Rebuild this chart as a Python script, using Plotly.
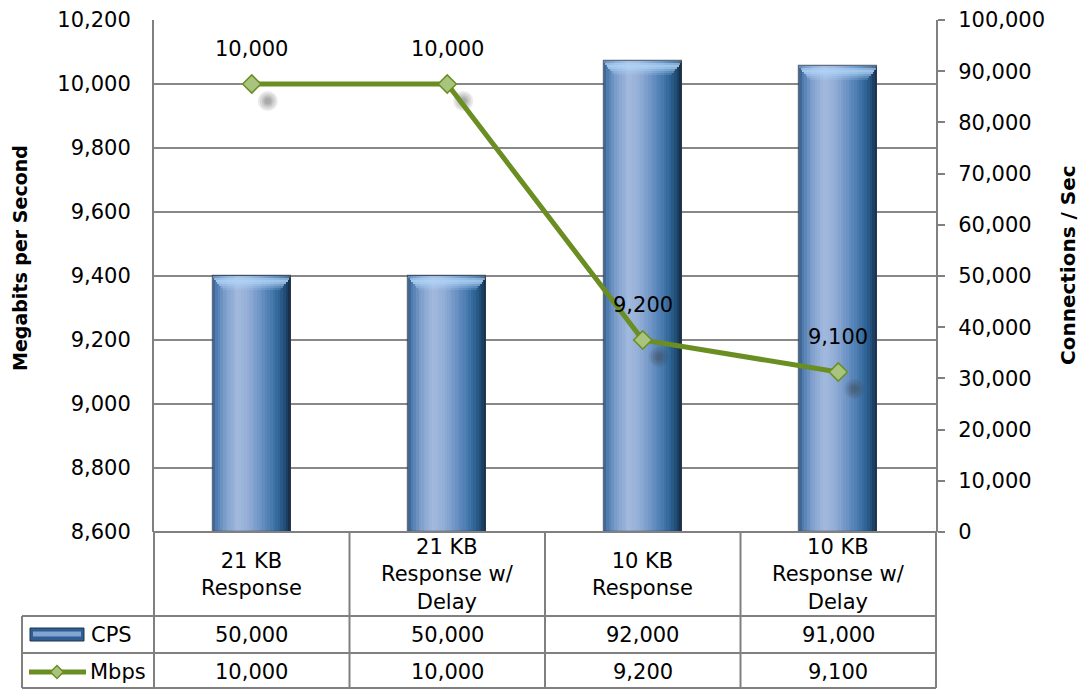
import plotly.graph_objects as go

# ---- data -------------------------------------------------------------
categories = ["21 KB Response", "21 KB Response w/ Delay",
              "10 KB Response", "10 KB Response w/ Delay"]
category_labels = ["21 KB<br>Response", "21 KB<br>Response w/<br>Delay",
                   "10 KB<br>Response", "10 KB<br>Response w/<br>Delay"]
cps = [50000, 50000, 92000, 91000]
mbps = [10000, 10000, 9200, 9100]
mbps_ticks = [8600, 8800, 9000, 9200, 9400, 9600, 9800, 10000, 10200]
cps_ticks = [0, 10000, 20000, 30000, 40000, 50000, 60000, 70000, 80000, 90000, 100000]

# ---- geometry / style --------------------------------------------------
W, H = 1081, 689
ML, MR, MT, MB = 154, 145, 20, 157
PW, PH = W - ML - MR, H - MT - MB
FONT = "DejaVu Sans"
FS = 21
GRAY = "#808080"
GREEN = "#6b8e23"
MARKER_FILL = "#a9c47f"
CPS_RANGE = [0, 100000]
MBPS_RANGE = [8600, 10200]


def px(x):
    """pixel column -> paper x"""
    return (x - ML) / PW


def py(y):
    """pixel row -> paper y"""
    return (H - MB - y) / PH


def hex_to_rgb(h):
    h = h.lstrip("#")
    return tuple(int(h[i:i + 2], 16) for i in (0, 2, 4))


# horizontal colour profile of the cylinder-style bars
stops = [
    (0.00, "#3a5e88"), (0.05, "#4f7bb0"), (0.16, "#7e9fcc"),
    (0.32, "#a3badd"), (0.46, "#92add6"), (0.60, "#6f95c6"),
    (0.74, "#4a7cb1"), (0.85, "#2f6496"), (0.93, "#1f4a72"),
    (1.00, "#13283f"),
]


def profile(t):
    for (t0, c0), (t1, c1) in zip(stops, stops[1:]):
        if t0 <= t <= t1:
            f = (t - t0) / (t1 - t0)
            a, b = hex_to_rgb(c0), hex_to_rgb(c1)
            r = [round(a[k] + (b[k] - a[k]) * f) for k in range(3)]
            return "rgb(%d,%d,%d)" % tuple(r)
    return stops[-1][1]


def text_font(size=FS):
    return dict(family=FONT, size=size, color="black")


fig = go.Figure()

# ---- CPS bars (right axis) built from thin vertical strips -------------
BAR_W = 0.40
N = 30
step = BAR_W / N
for i in range(N):
    off = -BAR_W / 2 + i * step
    wid = min(step * 1.7, BAR_W - i * step)
    fig.add_trace(go.Bar(
        x=categories, y=cps, width=wid, offset=off,
        marker=dict(color=profile((i + 0.5) / N), line=dict(width=0)),
        xaxis="x", yaxis="y", hoverinfo="skip", showlegend=False))

# bevelled top face of each bar: stacked rows narrowing downwards
unit = (CPS_RANGE[1] - CPS_RANGE[0]) / PH          # CPS per pixel
bar_px = BAR_W * PW / len(categories)               # bar width in pixels
row_alpha = [0.35, 0.70, 0.85, 0.75, 0.55, 0.35, 0.18]
for k, a in enumerate(row_alpha):
    inset = 1.6 * k
    frac = 1 - 2 * inset / bar_px
    fig.add_trace(go.Bar(
        x=categories, y=[2 * unit] * len(cps),
        base=[v - 2 * (k + 1) * unit for v in cps],
        width=BAR_W * frac, offset=-BAR_W * frac / 2,
        marker=dict(color=f"rgba(178,213,248,{a})", line=dict(width=0)),
        xaxis="x", yaxis="y", hoverinfo="skip", showlegend=False))
# outline
fig.add_trace(go.Bar(
    x=categories, y=cps, width=BAR_W, offset=-BAR_W / 2,
    marker=dict(color="rgba(0,0,0,0)", line=dict(color="rgba(45,60,80,0.75)", width=1.2)),
    xaxis="x", yaxis="y", hoverinfo="skip", showlegend=False))

# ---- soft marker shadows (offset overlay axes) -------------------------
for s in (20, 16, 12, 9, 6):
    fig.add_trace(go.Scatter(
        x=categories, y=mbps, mode="markers",
        marker=dict(symbol="circle", size=s, color="rgba(60,60,60,0.11)", line=dict(width=0)),
        xaxis="x2", yaxis="y2", hoverinfo="skip", showlegend=False))

# ---- Mbps line (left axis) --------------------------------------------
fig.add_trace(go.Scatter(
    x=categories, y=mbps, mode="lines+markers",
    line=dict(color=GREEN, width=5),
    marker=dict(symbol="diamond", size=14, color=MARKER_FILL,
                line=dict(color=GREEN, width=1.5)),
    xaxis="x3", yaxis="y3", hoverinfo="skip", showlegend=False))

annotations = []
for c, v in zip(categories, mbps):
    annotations.append(dict(x=c, y=v, xref="x3", yref="y3", text=f"{v:,}",
                            showarrow=False, yshift=35,
                            xanchor="center", yanchor="middle", font=text_font()))

# ---- axis titles -------------------------------------------------------
annotations.append(dict(x=px(20), y=py(258), xref="paper", yref="paper",
                        text="<b>Megabits per Second</b>", textangle=-90,
                        xanchor="center", yanchor="middle",
                        showarrow=False, font=text_font(19)))
annotations.append(dict(x=px(1068), y=py(265), xref="paper", yref="paper",
                        text="<b>Connections / Sec</b>", textangle=-90,
                        xanchor="center", yanchor="middle",
                        showarrow=False, font=text_font(20)))

# ---- data table under the plot ----------------------------------------
n = len(categories)
shapes = []
line_style = dict(color=GRAY, width=2)
y_axis_row = H - MB
y_hdr_bot, y_cps_bot, y_tbl_bot = 616, 653, 688
x_leg = 22
for i in range(n + 1):
    xp = i / n
    shapes.append(dict(type="line", xref="paper", yref="paper",
                       x0=xp, x1=xp, y0=py(y_axis_row), y1=py(y_tbl_bot), line=line_style))
shapes.append(dict(type="line", xref="paper", yref="paper", x0=0, x1=1,
                   y0=py(y_axis_row), y1=py(y_axis_row), line=line_style))
for yy in (y_hdr_bot, y_cps_bot, y_tbl_bot):
    shapes.append(dict(type="line", xref="paper", yref="paper", x0=px(x_leg), x1=1,
                       y0=py(yy), y1=py(yy), line=line_style))
shapes.append(dict(type="line", xref="paper", yref="paper", x0=px(x_leg), x1=px(x_leg),
                   y0=py(y_hdr_bot), y1=py(y_tbl_bot), line=line_style))

# legend keys
shapes.append(dict(type="rect", xref="paper", yref="paper",
                   x0=px(30), x1=px(84), y0=py(641), y1=py(628),
                   fillcolor="#2f5f92", line=dict(color="#1d3450", width=1)))
shapes.append(dict(type="rect", xref="paper", yref="paper",
                   x0=px(33), x1=px(81), y0=py(636.5), y1=py(631.5),
                   fillcolor="#8fb0da", line=dict(width=0), opacity=0.85))
shapes.append(dict(type="line", xref="paper", yref="paper",
                   x0=px(29), x1=px(86), y0=py(672), y1=py(672),
                   line=dict(color=GREEN, width=5)))
dcx, dcy, dr = 57, 672, 6.5
shapes.append(dict(type="path", xref="paper", yref="paper",
                   path=(f"M {px(dcx - dr)} {py(dcy)} L {px(dcx)} {py(dcy - dr)} "
                         f"L {px(dcx + dr)} {py(dcy)} L {px(dcx)} {py(dcy + dr)} Z"),
                   fillcolor=MARKER_FILL, line=dict(color=GREEN, width=1.5)))

annotations.append(dict(x=px(89), y=py(635), xref="paper", yref="paper", text="CPS",
                        xanchor="left", yanchor="middle", showarrow=False, font=text_font()))
annotations.append(dict(x=px(88), y=py(672), xref="paper", yref="paper", text="Mbps",
                        xanchor="left", yanchor="middle", showarrow=False, font=text_font()))

for i, (lab, c_val, m_val) in enumerate(zip(category_labels, cps, mbps)):
    xc = (i + 0.5) / n
    annotations.append(dict(x=xc, y=py(574), xref="paper", yref="paper", text=lab,
                            showarrow=False, align="center",
                            xanchor="center", yanchor="middle", font=text_font()))
    annotations.append(dict(x=xc, y=py(635), xref="paper", yref="paper", text=f"{c_val:,}",
                            xanchor="center", yanchor="middle",
                            showarrow=False, font=text_font()))
    annotations.append(dict(x=xc, y=py(672), xref="paper", yref="paper", text=f"{m_val:,}",
                            xanchor="center", yanchor="middle",
                            showarrow=False, font=text_font()))

# ---- axes ---------------------------------------------------------------
x_range = [-0.5, n - 0.5]
shadow_dx = 16 / (PW / n)
shadow_dy = 17 / PH * (MBPS_RANGE[1] - MBPS_RANGE[0])
hidden_x = dict(showticklabels=False, showgrid=False, zeroline=False, showline=False,
                ticks="", fixedrange=True, automargin=False)

fig.update_layout(
    template="none",
    width=W, height=H,
    margin=dict(l=ML, r=MR, t=MT, b=MB, pad=0, autoexpand=False),
    paper_bgcolor="white", plot_bgcolor="white",
    barmode="overlay", bargap=0,
    font=dict(family=FONT, size=FS, color="black"),
    showlegend=False,
    xaxis=dict(type="category", categoryorder="array", categoryarray=categories,
               range=x_range, anchor="y", **hidden_x),
    xaxis2=dict(type="category", categoryorder="array", categoryarray=categories,
                range=[x_range[0] - shadow_dx, x_range[1] - shadow_dx],
                overlaying="x", anchor="y", visible=False, **hidden_x),
    xaxis3=dict(type="category", categoryorder="array", categoryarray=categories,
                range=x_range, overlaying="x", anchor="y", visible=False, **hidden_x),
    yaxis=dict(side="right", range=CPS_RANGE, tickvals=cps_ticks, tickformat=",",
               showgrid=False, zeroline=False, showline=True, linecolor=GRAY, linewidth=2,
               ticks="outside", ticklen=7, tickwidth=2, tickcolor=GRAY,
               ticklabelstandoff=9, tickfont=text_font(),
               anchor="x", fixedrange=True, automargin=False),
    yaxis2=dict(range=[MBPS_RANGE[0] + shadow_dy, MBPS_RANGE[1] + shadow_dy],
                overlaying="y", anchor="x", visible=False, showgrid=False, zeroline=False,
                automargin=False),
    yaxis3=dict(side="left", range=MBPS_RANGE, tickvals=mbps_ticks, tickformat=",",
                overlaying="y", anchor="x",
                showgrid=True, gridcolor="#888888", gridwidth=2, zeroline=False,
                showline=True, linecolor=GRAY, linewidth=2, ticks="",
                ticklabelstandoff=17, tickfont=text_font(),
                fixedrange=True, automargin=False),
    shapes=shapes,
    annotations=annotations,
)

fig.write_html("out.html")
